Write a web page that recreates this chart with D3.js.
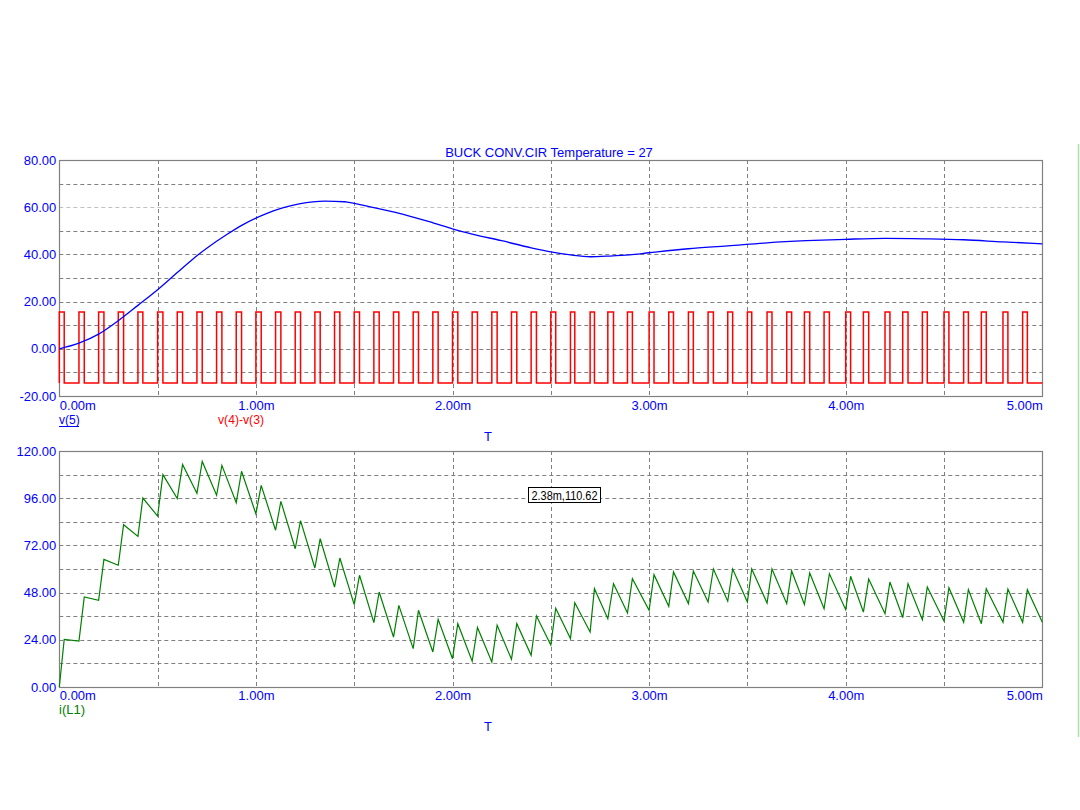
<!DOCTYPE html>
<html>
<head>
<meta charset="utf-8">
<script src="https://cdn.jsdelivr.net/npm/d3@7"></script>
<style>
  html, body { margin: 0; padding: 0; background: #ffffff; }
  svg { display: block; }
  text { font-family: "Liberation Sans", Arial, sans-serif; }
</style>
</head>
<body>
<svg id="chart" width="1080" height="810"></svg>
<script>
// ---------------- DATA ----------------
const title = "BUCK CONV.CIR Temperature = 27";
const timeTicks = [0, 1, 2, 3, 4, 5];
const timeTickLabels = ["0.00m", "1.00m", "2.00m", "3.00m", "4.00m", "5.00m"];
const timeGrid = [0.5, 1.0, 1.5, 2.0, 2.5, 3.0, 3.5, 4.0, 4.5];

const voltTicks = [80, 60, 40, 20, 0, -20];
const voltTickLabels = ["80.00", "60.00", "40.00", "20.00", "0.00", "-20.00"];
const voltGrid = [70, 60, 50, 40, 30, 20, 10, 0, -10];

const currTicks = [120, 96, 72, 48, 24, 0];
const currTickLabels = ["120.00", "96.00", "72.00", "48.00", "24.00", "0.00"];
const currGrid = [108, 96, 84, 72, 60, 48, 36, 24, 12];

// v(5): output voltage (time in ms, volts)
const v5Time = [0, 0.1, 0.2, 0.3, 0.4, 0.5, 0.6, 0.68, 0.75, 0.85, 0.93, 1.0, 1.05, 1.14, 1.22, 1.35, 1.45, 1.5, 1.6, 1.75, 1.9, 2.0, 2.1, 2.25, 2.4, 2.5, 2.6, 2.7, 2.8, 2.9, 3.0, 3.2, 3.4, 3.6, 3.8, 4.0, 4.2, 4.4, 4.6, 4.8, 5.0];
const v5Value = [0, 2.4, 6.2, 11.9, 18.4, 25.0, 32.3, 38.1, 42.6, 48.3, 52.4, 55.4, 57.2, 59.8, 61.4, 62.6, 62.3, 61.6, 59.8, 57.0, 53.4, 50.8, 48.6, 45.8, 42.8, 41.1, 39.8, 39.0, 39.3, 39.8, 40.7, 42.4, 43.6, 44.9, 45.8, 46.4, 46.8, 46.6, 46.2, 45.3, 44.5];

// v(4)-v(3): switching pulses (start time ms, on-width ms)
const pulseStart = [0.00, 0.10, 0.20, 0.30, 0.40, 0.50, 0.60, 0.70, 0.80, 0.90,
                    1.00, 1.10, 1.20, 1.30, 1.40, 1.50, 1.60, 1.70, 1.80, 1.90,
                    2.00, 2.10, 2.20, 2.30, 2.40, 2.50, 2.60, 2.70, 2.79, 2.89,
                    3.00, 3.10, 3.20, 3.30, 3.40, 3.50, 3.60, 3.70, 3.79, 3.89,
                    4.00, 4.09, 4.20, 4.29, 4.39, 4.50, 4.60, 4.69, 4.80, 4.90];
const pulseWidth = [0.025, 0.027, 0.027, 0.027, 0.025, 0.027, 0.027, 0.027, 0.027, 0.027,
                    0.027, 0.027, 0.027, 0.027, 0.027, 0.027, 0.027, 0.027, 0.027, 0.027,
                    0.027, 0.027, 0.027, 0.027, 0.027, 0.025, 0.022, 0.022, 0.029, 0.025,
                    0.025, 0.024, 0.025, 0.027, 0.025, 0.022, 0.025, 0.025, 0.027, 0.027,
                    0.025, 0.027, 0.025, 0.027, 0.025, 0.025, 0.024, 0.025, 0.025, 0.024];
const pulseHigh = 15.6;
const pulseLow = -14.5;

// i(L1): inductor current at each pulse start (valley) and pulse end (peak)
const iValley = [0, 23.4, 44.1, 61.9, 76.6, 86.9, 95.8, 98.5, 97.5, 93.7,
                 88.0, 79.7, 70.3, 60.5, 50.8, 41.9, 32.7, 25.4, 19.5, 17.8,
                 14.4, 13.1, 12.7, 14.1, 16.1, 21.4, 24.6, 28.0, 34.7, 37.6,
                 39.0, 41.0, 42.4, 43.2, 43.6, 43.2, 42.7, 42.4, 42.0, 39.8,
                 39.3, 38.1, 37.3, 35.3, 34.2, 33.6, 32.9, 32.2, 32.9, 32.9];
const iPeak = [24.2, 45.8, 64.9, 82.5, 96.1, 108.0, 113.1, 114.7, 112.7, 109.7,
               102.5, 94.4, 84.6, 75.4, 65.6, 56.8, 48.3, 41.5, 39.0, 34.4,
               32.2, 30.3, 31.4, 32.2, 36.1, 40.0, 42.9, 50.0, 52.5, 55.1,
               57.1, 58.5, 59.0, 60.0, 60.0, 60.0, 60.0, 59.0, 58.0, 57.6,
               56.3, 54.9, 53.4, 52.5, 50.8, 50.5, 49.5, 50.0, 49.8, 49.5];
const iEnd = 32.9;

const cursorLabel = "2.38m,110.62";

// ---------------- DRAW ----------------
const svg = d3.select("#chart");
svg.append("rect").attr("width", 1080).attr("height", 810).attr("fill", "#ffffff");

const X0 = 59.3, X1 = 1042.3;
const x = d3.scaleLinear().domain([0, 5]).range([X0, X1]);
const yV = d3.scaleLinear().domain([-20, 80]).range([396, 160]);
const yI = d3.scaleLinear().domain([0, 120]).range([687, 451]);

const BLUE = "#0000ff", RED = "#ff0000", GREEN = "#008000", GRID = "#808080";

function panel(yScale, hGrid, ticks, tickLabels, labelY, tLabelY) {
  const g = svg.append("g");
  const [b, t] = yScale.range();
  g.selectAll("line.hg").data(hGrid).enter().append("line")
    .attr("x1", X0).attr("x2", X1)
    .attr("y1", d => Math.round(yScale(d)) + 0.5).attr("y2", d => Math.round(yScale(d)) + 0.5)
    .attr("stroke", d => (yScale === yV && d === 60) ? "#c0c0c0" : GRID)
    .attr("stroke-width", 1).attr("stroke-dasharray", "4,3");
  g.selectAll("line.vg").data(timeGrid).enter().append("line")
    .attr("x1", d => Math.round(x(d)) + 0.5).attr("x2", d => Math.round(x(d)) + 0.5)
    .attr("y1", t).attr("y2", b)
    .attr("stroke", GRID).attr("stroke-width", 1).attr("stroke-dasharray", "4,3");
  g.append("rect").attr("x", Math.round(X0) + 0.5).attr("y", t + 0.5)
    .attr("width", Math.round(X1) - Math.round(X0)).attr("height", b - t)
    .attr("fill", "none").attr("stroke", GRID).attr("stroke-width", 1.2);

  const ax = d3.axisLeft(yScale).tickValues(ticks)
    .tickFormat((d, i) => tickLabels[i]).tickSize(0).tickPadding(3);
  const ay = svg.append("g").attr("transform", `translate(${X0},0)`).call(ax);
  ay.select(".domain").remove();
  ay.selectAll("text").attr("fill", BLUE).attr("font-size", 13)
    .attr("font-family", "'Liberation Sans', Arial, sans-serif");

  const axx = d3.axisBottom(x).tickValues(timeTicks)
    .tickFormat((d, i) => timeTickLabels[i]).tickSize(0).tickPadding(0);
  const axg = svg.append("g").attr("transform", `translate(0,${labelY})`).call(axx);
  axg.select(".domain").remove();
  axg.selectAll("text").attr("fill", BLUE).attr("font-size", 13)
    .attr("font-family", "'Liberation Sans', Arial, sans-serif")
    .attr("dy", 0).attr("y", 0)
    .attr("text-anchor", (d, i) => i === 0 ? "start" : (i === timeTicks.length - 1 ? "end" : "middle"));

  svg.append("text").attr("x", 488).attr("y", tLabelY).attr("text-anchor", "middle")
    .attr("fill", BLUE).attr("font-size", 13).text("T");
}

panel(yV, voltGrid, voltTicks, voltTickLabels, 410, 441);
panel(yI, currGrid, currTicks, currTickLabels, 700, 731);

svg.append("text").attr("x", 549).attr("y", 157).attr("text-anchor", "middle")
  .attr("fill", BLUE).attr("font-size", 13).text(title);

// red switching waveform
const redPts = [[0, pulseLow]];
pulseStart.forEach((s, k) => {
  redPts.push([s, pulseLow], [s, pulseHigh], [s + pulseWidth[k], pulseHigh], [s + pulseWidth[k], pulseLow]);
});
redPts.push([5, pulseLow]);
svg.append("path").datum(redPts)
  .attr("d", d3.line().x(d => x(d[0])).y(d => yV(d[1])))
  .attr("fill", "none").attr("stroke", RED).attr("stroke-width", 1.5);

// blue v(5)
const bluePts = v5Time.map((t, i) => [t, v5Value[i]]);
svg.append("path").datum(bluePts)
  .attr("d", d3.line().x(d => x(d[0])).y(d => yV(d[1])).curve(d3.curveMonotoneX))
  .attr("fill", "none").attr("stroke", BLUE).attr("stroke-width", 1.3);

// green i(L1)
const greenPts = [];
pulseStart.forEach((s, k) => {
  greenPts.push([s, iValley[k]], [s + pulseWidth[k], iPeak[k]]);
});
greenPts.push([5, iEnd]);
svg.append("path").datum(greenPts)
  .attr("d", d3.line().x(d => x(d[0])).y(d => yI(d[1])))
  .attr("fill", "none").attr("stroke", GREEN).attr("stroke-width", 1.2);

// legends
svg.append("text").attr("x", 59).attr("y", 424).attr("fill", BLUE).attr("font-size", 12).text("v(5)");
svg.append("line").attr("x1", 59).attr("x2", 79).attr("y1", 426.5).attr("y2", 426.5)
  .attr("stroke", BLUE).attr("stroke-width", 1);
svg.append("text").attr("x", 218).attr("y", 424).attr("fill", RED).attr("font-size", 12)
  .attr("textLength", 46).attr("lengthAdjust", "spacingAndGlyphs").text("v(4)-v(3)");
svg.append("text").attr("x", 59).attr("y", 714).attr("fill", GREEN).attr("font-size", 13).text("i(L1)");

// cursor label box
const bx = 528, by = 487;
svg.append("rect").attr("x", bx + 0.5).attr("y", by + 0.5).attr("width", 72).attr("height", 15)
  .attr("fill", "#ffffff").attr("stroke", "#000000").attr("stroke-width", 1);
svg.append("text").attr("x", bx + 36.5).attr("y", by + 12.5).attr("text-anchor", "middle")
  .attr("fill", "#000000").attr("font-size", 12)
  .attr("textLength", 66).attr("lengthAdjust", "spacingAndGlyphs").text(cursorLabel);

// right-side light green separator
svg.append("line").attr("x1", 1078.5).attr("x2", 1078.5).attr("y1", 144).attr("y2", 737)
  .attr("stroke", "#a8e4a8").attr("stroke-width", 1.5);
</script>
</body>
</html>
